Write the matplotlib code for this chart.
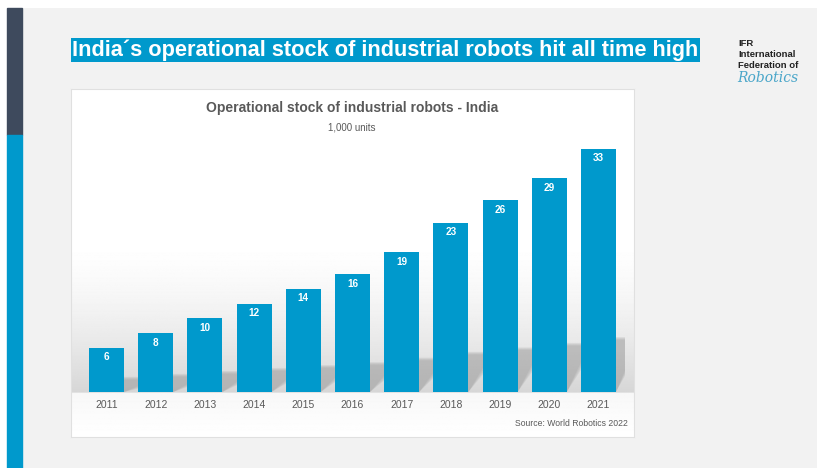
import numpy as np
import matplotlib.pyplot as plt
from matplotlib.patches import Rectangle, Polygon

# data
years = ["2011", "2012", "2013", "2014", "2015", "2016",
         "2017", "2018", "2019", "2020", "2021"]
stock = [6, 8, 10, 12, 14, 16, 19, 23, 26, 29, 33]

title = "India\u00b4s operational stock of industrial robots hit all time high"
chart_title = "Operational stock of industrial robots - India"
unit_note = "1,000 units"
source_note = "Source: World Robotics 2022"

W, H = 817, 468
BLUE = "#0099cc"
SLATE = "#3e4a5d"
GREY_TXT = "#595959"

fig = plt.figure(figsize=(W / 100, H / 100), dpi=100)
fig.patch.set_facecolor("white")


def px(x0, y0, x1, y1):
    # pixel box (top-left origin) -> figure fraction rect
    return [x0 / W, 1 - y1 / H, (x1 - x0) / W, (y1 - y0) / H]


# slide background
bg = fig.add_axes(px(7, 8, W, H))
bg.set_facecolor("#f2f2f2")
bg.set_xticks([]); bg.set_yticks([])
for s in bg.spines.values():
    s.set_visible(False)

# left strip
fig.patches.append(Rectangle((7 / W, 1 - 135 / H), 15 / W, 127 / H,
                             transform=fig.transFigure, color=SLATE, zorder=1))
fig.patches.append(Rectangle((7 / W, 0), 15 / W, 1 - 135 / H,
                             transform=fig.transFigure, color=BLUE, zorder=1))

# headline
fig.text(72 / W, 1 - 50 / H, title, fontsize=15.7, fontweight="bold",
         color="white", va="center", ha="left", family="Liberation Sans",
         bbox=dict(boxstyle="square,pad=0.06", fc=BLUE, ec="none"))

# IFR logo text
for i, line in enumerate(["IFR", "International", "Federation of"]):
    fig.text(738 / W, 1 - (44 + 10.5 * i) / H, line, fontsize=6.8,
             fontweight="bold", color="#222222", va="center", ha="left",
             family="Liberation Sans")
fig.text(737 / W, 1 - 78 / H, "Robotics", fontsize=10, style="italic",
         color="#4aa6c9", va="center", ha="left", family="DejaVu Serif")

# chart panel with vertical gradient
panel = fig.add_axes(px(71, 89, 634, 437))
rows = np.linspace(89, 437, 400)
shade = np.ones_like(rows)
mask = (rows > 240) & (rows <= 393)
shade[mask] = 1 - 0.16 * ((rows[mask] - 240) / 153) ** 1.5
low = rows > 393
shade[low] = 0.97 + 0.03 * ((rows[low] - 393) / 44)
grad = np.repeat(shade[:, None], 10, axis=1)
panel.imshow(grad, cmap="gray", vmin=0, vmax=1, aspect="auto",
             extent=[0, 1, 0, 1])
panel.set_xticks([]); panel.set_yticks([])
for s in panel.spines.values():
    s.set_color("#e0e0e0")
    s.set_linewidth(0.8)

fig.text(352 / W, 1 - 108 / H, chart_title, fontsize=10, fontweight="bold",
         color=GREY_TXT, ha="center", va="center", family="Liberation Sans")
fig.text(352 / W, 1 - 128 / H, unit_note, fontsize=7, color=GREY_TXT,
         ha="center", va="center", family="Liberation Sans")
fig.text(628 / W, 1 - 424 / H, source_note, fontsize=6.2, color=GREY_TXT,
         ha="right", va="center", family="Liberation Sans")

# bars
ax = fig.add_axes(px(80, 140, 625, 392))
ax.patch.set_alpha(0)
x = np.arange(len(years))
bw = 0.71
ax.set_xlim(-0.539, 10.54)
ax.set_ylim(0, 34.2)

# soft floor shadows cast up and to the right of each bar
for xi, v in zip(x, stock):
    sh = 0.2 * v
    right = xi + bw / 2
    for k in range(4):
        grow = 0.12 * k
        poly = Polygon([(xi - bw / 2 + 0.1, 0), (right, 0),
                        (right + 0.42 + grow * 0.3, sh - grow),
                        (right + 0.42 + grow * 0.3, sh + 0.5 + grow),
                        (right, sh + 0.5 + grow)],
                       closed=True, fc="#8c8c8c", ec="none", alpha=0.14,
                       zorder=1)
        ax.add_patch(poly)

bars = ax.bar(x, stock, width=bw, color=BLUE, zorder=2)
for b, v in zip(bars, stock):
    ax.text(b.get_x() + b.get_width() / 2, v - 1.3, str(v), ha="center",
            va="center", color="white", fontsize=7.2, fontweight="bold",
            family="Liberation Sans", zorder=3)

ax.set_xticks(x)
ax.set_xticklabels(years, fontsize=7.5, color=GREY_TXT, family="Liberation Sans")
ax.tick_params(axis="x", length=0, pad=6)
ax.set_yticks([])
for s in ax.spines.values():
    s.set_visible(False)

fig.savefig("out.png", dpi=100)
